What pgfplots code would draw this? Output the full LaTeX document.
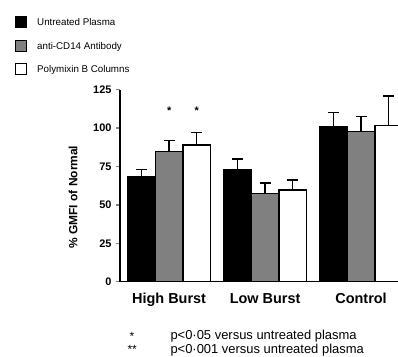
\documentclass[border=0pt]{standalone}
\usepackage{pgfplots}
\pgfplotsset{compat=1.18}
\usepackage{fontspec}
\setmainfont{Liberation Sans}
\definecolor{midgray}{RGB}{128,128,128}
\begin{document}
\begin{tikzpicture}[x=1bp,y=1bp]
\path[use as bounding box] (0,0) rectangle (398,357);
\begin{axis}[
  at={(120bp,75.3bp)}, anchor=south west,
  scale only axis, width=278bp, height=192bp,
  xmin=-0.512, xmax=2.385, ymin=0, ymax=125,
  ybar=0pt, bar width=0.288,
  axis x line=bottom, axis y line=left,
  axis line style={-, line width=1.6pt},
  ytick={0,25,50,75,100,125},
  xtick={0,1,2}, xticklabels={High Burst,Low Burst,Control},
  major tick length=4bp,
  xtick style={draw=none},
  ytick style={line width=1.4pt},
  tick align=outside,
  /pgf/number format/assume math mode=true,
  yticklabel style={font=\fontsize{11}{13}\selectfont\bfseries, xshift=-1bp},
  xticklabel style={font=\fontsize{14.5}{17}\selectfont\bfseries, yshift=-4bp},
  ylabel={\% GMFI of Normal},
  ylabel style={font=\fontsize{12}{14}\selectfont\bfseries, at={(axis description cs:-0.169,0.44)}, anchor=center},
  clip=true,
  legend style={at={(axis description cs:-0.378,1.384)}, anchor=north west, draw=none, fill=none,
    font=\fontsize{9.8}{11}\selectfont, row sep=11.5bp, inner sep=0pt,
    nodes={inner sep=1bp, text depth=0pt}},
  legend cell align=left,
  legend image code/.code={\draw[#1, line width=1.1pt, bar shift=0pt] (0bp,-5.5bp) rectangle (11bp,5.5bp);},
  /tikz/every odd column/.append style={column sep=9bp},
  error bars/y dir=plus, error bars/y explicit,
  error bars/error bar style={line width=1.4pt, black},
  error bars/error mark options={rotate=90, mark size=5.5bp, line width=1.4pt, black},
]
\addplot[fill=black, draw=black, line width=1.4pt]
  coordinates {(0,68.4) +- (0,4.8) (1,73.2) +- (0,6.7) (2,100.9) +- (0,9.4)};
\addlegendentry{Untreated Plasma}
\addplot[fill=midgray, draw=black, line width=1.4pt]
  coordinates {(0,84.6) +- (0,7.4) (1,57.5) +- (0,6.7) (2,97.7) +- (0,9.7)};
\addlegendentry{anti-CD14 Antibody}
\addplot[fill=white, draw=black, line width=1.4pt]
  coordinates {(0,89.0) +- (0,8.0) (1,59.7) +- (0,6.5) (2,101.6) +- (0,19.4)};
\addlegendentry{Polymixin B Columns}
\end{axis}
\begin{axis}[
  at={(120bp,75.3bp)}, anchor=south west,
  scale only axis, width=278bp, height=192bp,
  xmin=-0.512, xmax=2.385, ymin=0, ymax=125,
  hide axis]
\addplot[only marks, mark=none, nodes near coords, point meta=explicit symbolic,
  every node near coord/.style={font=\fontsize{11}{13}\selectfont\bfseries, anchor=center}]
  table[meta=label] {
x y label
0 111 *
0.288 111 *
};
\end{axis}
\node[anchor=west, font=\fontsize{12}{14}\selectfont] at (126,21) {*};
\node[anchor=west, font=\fontsize{12}{14}\selectfont] at (124,8) {**};
\node[anchor=west, font=\fontsize{13}{15}\selectfont] at (167,21) {p<0·05 versus untreated plasma};
\node[anchor=west, font=\fontsize{13}{15}\selectfont] at (167,7) {p<0·001 versus untreated plasma};
\end{tikzpicture}
\end{document}
